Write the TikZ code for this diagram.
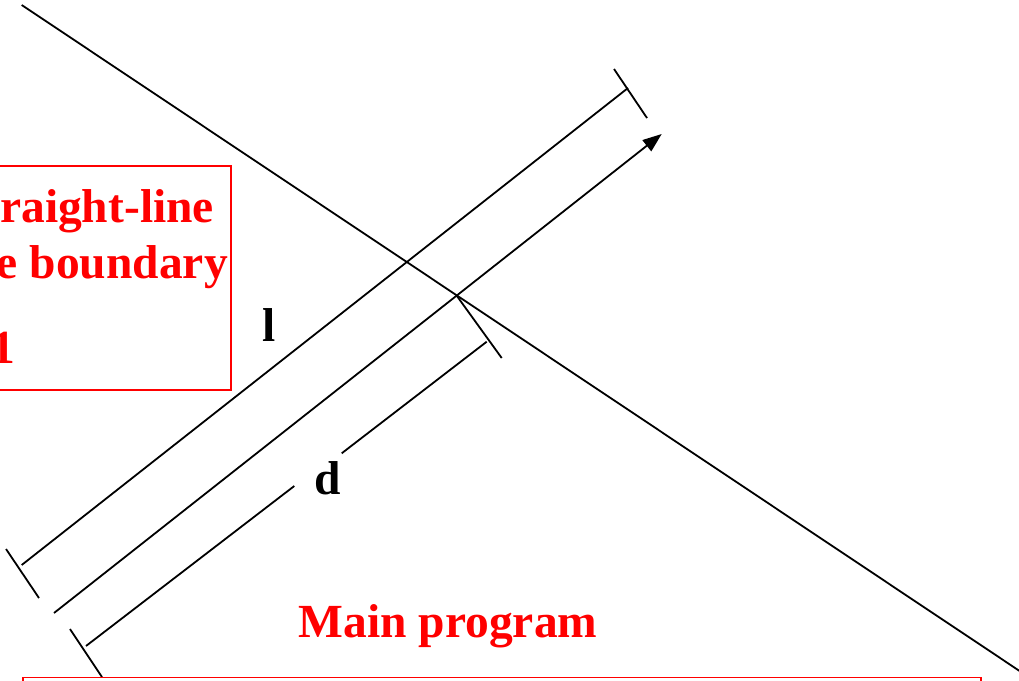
\documentclass[tikz,border=0pt]{standalone}
\usepackage{fontspec}
\setmainfont{Liberation Serif}
\usetikzlibrary{arrows.meta}
\tikzset{
  blk/.style={line width=1.8pt, black},
  redbox/.style={line width=1.8pt, red},
  lbl/.style={inner sep=0pt, font=\fontsize{47.5}{57}\selectfont\bfseries},
  redlbl/.style={lbl, text=red},
}
\begin{document}
\begin{tikzpicture}[x=1pt,y=-1pt]
\useasboundingbox (0,0) rectangle (1019,680);
\clip (0,0) rectangle (1019,680);
% coordinates
\coordinate (B1) at (21.7,5);
\coordinate (B2) at (1025,674.6);
\coordinate (L1) at (21.7,565);
\coordinate (L2) at (628,88);
\coordinate (A1) at (54,613);
\coordinate (A2) at (661.7,134);
\coordinate (X) at (456.7,295.7);
\coordinate (XT) at (501.7,358);
\coordinate (D1) at (86,646);
\coordinate (D1g) at (294.3,486);
\coordinate (D2g) at (341.7,453.3);
\coordinate (D2) at (486.7,341.7);
\coordinate (TU1) at (614,69);
\coordinate (TU2) at (647,118);
\coordinate (TL1) at (6,549);
\coordinate (TL2) at (39,598);
\coordinate (TD1) at (70,629);
\coordinate (TD2) at (102,677);
% boundary line
\draw[blk] (B1) -- (B2);
% l line and ticks
\draw[blk] (L1) -- (L2);
\draw[blk] (TU1) -- (TU2);
\draw[blk] (TL1) -- (TL2);
% arrow
\draw[blk, -{Triangle[length=19pt,width=14pt]}] (A1) -- (A2);
% d line and ticks
\draw[blk] (X) -- (XT);
\draw[blk] (D1) -- (D1g);
\draw[blk] (D2g) -- (D2);
\draw[blk] (TD1) -- (TD2);
% labels
\node[lbl, anchor=base west] (l) at (262,341.7) {l};
\node[lbl, anchor=base west] (d) at (314,494) {d};
% red boxes
\draw[redbox] (-10,166) rectangle (231,390);
\draw[redbox] (22.7,677.5) rectangle (981,700);
\node[redlbl, anchor=base west] (t1) at (0,222) {raight-line};
\node[redlbl, anchor=base east] (t2) at (228,278) {e boundary};
\node[redlbl, anchor=base west] (t3) at (-9,363) {1};
\node[redlbl, anchor=base] (mp) at (448,637) {Main program};
\end{tikzpicture}
\end{document}
